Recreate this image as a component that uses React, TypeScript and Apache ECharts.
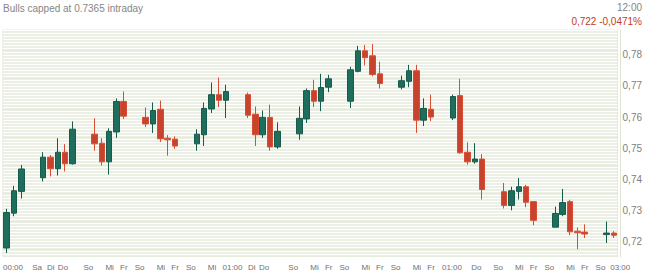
import React, { useEffect, useRef } from "react";
import * as echarts from "echarts";

// slot index (day position on the axis, weekends left empty)
const slot = [0,1,2,5,6,7,8,9,12,13,14,15,16,19,20,21,22,23,26,27,28,29,30,33,34,35,36,37,40,41,42,43,44,47,48,49,50,51,54,55,56,57,58,61,62,63,64,65,68,69,70,71,72,75,76,77,78,79,82,83];
const open = [.7179,.7291,.7361,.7405,.7471,.7434,.7487,.7450,.7545,.7516,.7456,.7552,.7650,.7599,.7578,.7625,.7532,.7529,.7514,.7543,.7626,.7672,.7654,.7672,.7609,.7543,.7599,.7504,.7546,.7594,.7685,.7651,.7696,.7651,.7747,.7813,.7797,.7739,.7696,.7715,.7749,.7590,.7625,.7597,.7669,.7487,.7456,.7465,.7360,.7316,.7361,.7376,.7328,.7246,.7287,.7328,.7233,.7230,.7222,.7227];
const close = [.7293,.7363,.7433,.7471,.7434,.7487,.7450,.7561,.7514,.7456,.7554,.7650,.7603,.7578,.7621,.7530,.7527,.7507,.7545,.7628,.7672,.7654,.7682,.7606,.7543,.7599,.7504,.7554,.7596,.7685,.7651,.7695,.7723,.7752,.7813,.7791,.7737,.7708,.7717,.7749,.7590,.7628,.7600,.7666,.7485,.7456,.7465,.7367,.7316,.7363,.7376,.7326,.7268,.7290,.7325,.7231,.7228,.7224,.7227,.7220];
const low = [.7163,.7281,.7338,.7393,.7409,.7412,.7425,.7447,.7492,.7444,.7415,.7533,.7594,.7568,.7549,.7520,.7476,.7498,.7492,.7507,.7613,.7632,.7597,.7597,.7507,.7533,.7492,.7498,.7527,.7581,.7632,.7619,.7680,.7629,.7744,.7766,.7731,.7692,.7689,.7696,.7549,.7571,.7587,.7590,.7482,.7447,.7450,.7335,.7306,.7300,.7335,.7310,.7252,.7246,.7281,.7220,.7175,.7211,.7195,.7211];
const high = [.7305,.7379,.7446,.7487,.7478,.7532,.7513,.7586,.7596,.7532,.7564,.7660,.7682,.7631,.7647,.7653,.7542,.7538,.7561,.7647,.7711,.7727,.7704,.7679,.7634,.7621,.7640,.7583,.7634,.7692,.7720,.7739,.7736,.7762,.7829,.7832,.7835,.7778,.7733,.7768,.7768,.7660,.7672,.7672,.7723,.7519,.7516,.7481,.7388,.7376,.7404,.7382,.7330,.7312,.7369,.7334,.7245,.7255,.7264,.7233];

const slotCount = 84;
// x-axis labels and their positions in half-slot units
const tickLabels = ["00:00","Sa","Di","Do","So","Mi","Fr","So","Mi","Fr","So","Mi","01:00","Di","Do","So","Mi","Fr","So","Mi","Fr","So","Mi","Fr","01:00","Do","So","Mi","Fr","So","Mi","Fr","So","03:00"];
const tickPos = [0,8,12,15,22,28,32,36,42,46,50,56,60,67,70,78,84,88,92,98,102,106,112,116,120,128,134,140,144,148,154,158,162,166];

const title = "Bulls capped at 0.7365 intraday";
const timeText = "12:00";
const quoteText = "0,722 -0,0471%";

export default function App() {
  const ref = useRef<HTMLDivElement>(null);
  useEffect(() => {
    if (!ref.current) return;
    const chart = echarts.init(ref.current, null, { renderer: "svg" });
    const categories = Array.from({ length: slotCount }, (_, i) => String(i));
    const data: any[] = categories.map(() => "-");
    slot.forEach((s, i) => {
      data[s] = [open[i], close[i], low[i], high[i]];
    });
    const labelCats: string[] = Array.from({ length: slotCount * 2 + 1 }, () => "");
    tickPos.forEach((p, i) => {
      labelCats[p] = tickLabels[i];
    });
    const font = "Liberation Sans, Arial, sans-serif";
    chart.setOption({
      animation: false,
      grid: {
        left: 3, top: 30, width: 616, height: 227,
        show: true, backgroundColor: "#e6eadb", borderColor: "#dfe3d2", borderWidth: 1,
      },
      graphic: [
        { type: "text", left: 3, top: 3, style: { text: title, fill: "#858585", font: `10px ${font}` } },
        { type: "text", right: 3, top: 2, style: { text: timeText, fill: "#858585", font: `10px ${font}` } },
        { type: "text", right: 3, top: 16, style: { text: quoteText, fill: "#c23b22", font: `10px ${font}` } },
      ],
      xAxis: [
        {
          type: "category", data: categories, boundaryGap: true,
          axisLine: { show: false }, axisTick: { show: false }, axisLabel: { show: false }, splitLine: { show: false },
        },
        {
          type: "category", data: labelCats, boundaryGap: false, position: "bottom",
          axisLine: { show: false }, axisTick: { show: false }, splitLine: { show: false },
          axisLabel: { interval: 0, align: "left", color: "#707070", fontSize: 8, fontFamily: font, margin: 6 },
        },
      ],
      yAxis: {
        type: "value", position: "right", min: 0.715, max: 0.788, interval: 0.001, offset: 3,
        axisLine: { show: true, lineStyle: { color: "#dfe3d2" } },
        axisTick: { show: false },
        splitLine: { show: true, lineStyle: { color: "#ffffff", width: 1.3 } },
        axisLabel: {
          margin: 2, color: "#808080", fontSize: 10, fontFamily: font,
          formatter: (v: number) => {
            const r = Math.round(v * 100);
            return Math.abs(v * 100 - r) < 1e-6 ? (r / 100).toFixed(2).replace(".", ",") : "";
          },
        },
      },
      series: [
        {
          type: "candlestick", xAxisIndex: 0, data, barWidth: 6,
          itemStyle: {
            color: "#1e6e5e", color0: "#c8432d",
            borderColor: "#185a4c", borderColor0: "#d94d34", borderWidth: 1,
          },
        },
      ],
    });
    return () => chart.dispose();
  }, []);
  return <div ref={ref} style={{ width: 645, height: 275, position: "absolute", left: 0, top: 0 }} />;
}
